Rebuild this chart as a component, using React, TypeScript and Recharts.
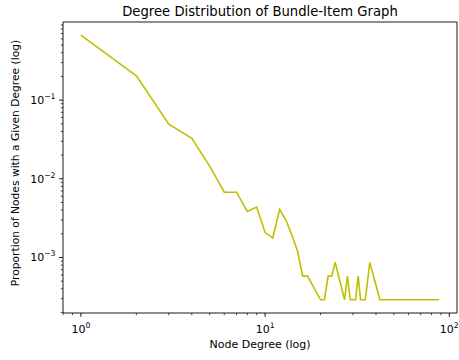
import { LineChart, Line, XAxis, YAxis, ReferenceArea } from "recharts";

// degree -> proportion of nodes
const degrees = [1, 2, 3, 4, 5, 6, 7, 8, 9, 10, 11, 12, 13, 14, 15, 16, 17, 20, 21, 22, 23, 24, 27, 28, 29, 31, 32, 33, 35, 37, 42, 88];
const proportions = [
  0.668, 0.203, 0.0496, 0.0327, 0.0145, 0.00675, 0.00675, 0.00385, 0.00437, 0.00207,
  0.00177, 0.00408, 0.00295, 0.0019, 0.0012, 0.00058, 0.00058, 0.00029, 0.00029, 0.00058,
  0.00058, 0.00087, 0.00029, 0.00058, 0.00029, 0.00029, 0.00058, 0.00029, 0.00029, 0.00087,
  0.00029, 0.00029,
];

const xTicks = [0.8, 0.9, 1, 2, 3, 4, 5, 6, 7, 8, 9, 10, 20, 30, 40, 50, 60, 70, 80, 90, 100];
const yTicks = [
  0.0002, 0.0003, 0.0004, 0.0005, 0.0006, 0.0007, 0.0008, 0.0009, 0.001,
  0.002, 0.003, 0.004, 0.005, 0.006, 0.007, 0.008, 0.009, 0.01,
  0.02, 0.03, 0.04, 0.05, 0.06, 0.07, 0.08, 0.09, 0.1,
  0.2, 0.3, 0.4, 0.5, 0.6, 0.7, 0.8, 0.9,
];

const xDomain = [0.7994, 110.1];
const yDomain = [0.0001969, 0.9838];

const data = degrees.map((d, i) => ({ degree: d, p: proportions[i] }));

const FONT = "DejaVu Sans";

function decade(v: number) {
  const e = Math.round(Math.log10(v));
  return { e, major: Math.abs(Math.log10(v) - e) < 1e-6 };
}

const supLabel = (e: number) => (e < 0 ? "\u2212" + Math.abs(e) : String(e));

const XTick = (props: any) => {
  const { x, y, payload } = props;
  const { e, major } = decade(payload.value);
  return (
    <g>
      <line x1={x} y1={y} x2={x} y2={y + (major ? 3.9 : 2.2)} stroke="#000" strokeWidth={major ? 0.9 : 0.7} />
      {major && (
        <text x={x} y={y + 19.5} textAnchor="middle" fontFamily={FONT} fontSize={11} fill="#000">
          10<tspan dy={-5} fontSize={7.7}>{supLabel(e)}</tspan>
        </text>
      )}
    </g>
  );
};

const YTick = (props: any) => {
  const { x, y, payload } = props;
  const { e, major } = decade(payload.value);
  return (
    <g>
      <line x1={x} y1={y} x2={x - (major ? 3.9 : 2.2)} y2={y} stroke="#000" strokeWidth={major ? 0.9 : 0.7} />
      {major && (
        <text x={x - 7.5} y={y + 4} textAnchor="end" fontFamily={FONT} fontSize={11} fill="#000">
          10<tspan dy={-5} fontSize={7.7}>{supLabel(e)}</tspan>
        </text>
      )}
    </g>
  );
};

export default function App() {
  return (
    <div style={{ position: "absolute", left: 0, top: 0, width: 459, height: 360, background: "#fff" }}>
      <LineChart width={459} height={360} data={data} margin={{ top: 22, right: 2, left: 0, bottom: 0 }}>
        <text x={260} y={16} textAnchor="middle" fontFamily={FONT} fontSize={13.2} fill="#000">
          Degree Distribution of Bundle-Item Graph
        </text>
        <text x={260} y={348} textAnchor="middle" fontFamily={FONT} fontSize={11} fill="#000">
          Node Degree (log)
        </text>
        <text
          x={18.5}
          y={163}
          textAnchor="middle"
          fontFamily={FONT}
          fontSize={10.7}
          fill="#000"
          transform="rotate(-90 18.5 163)"
        >
          Proportion of Nodes with a Given Degree (log)
        </text>
        <XAxis
          dataKey="degree"
          type="number"
          scale="log"
          domain={xDomain}
          allowDataOverflow
          ticks={xTicks}
          interval={0}
          tick={<XTick />}
          tickLine={false}
          tickSize={0}
          tickMargin={0}
          axisLine={false}
          height={47}
        />
        <YAxis
          type="number"
          scale="log"
          domain={yDomain}
          allowDataOverflow
          ticks={yTicks}
          interval={0}
          tick={<YTick />}
          tickLine={false}
          tickSize={0}
          tickMargin={0}
          axisLine={false}
          width={63}
        />
        <ReferenceArea
          x1={xDomain[0]}
          x2={xDomain[1]}
          y1={yDomain[0]}
          y2={yDomain[1]}
          fill="none"
          stroke="#000"
          strokeWidth={0.9}
          ifOverflow="visible"
        />
        <Line
          dataKey="p"
          type="linear"
          stroke="#bfbf00"
          strokeWidth={1.6}
          dot={false}
          isAnimationActive={false}
        />
      </LineChart>
    </div>
  );
}
